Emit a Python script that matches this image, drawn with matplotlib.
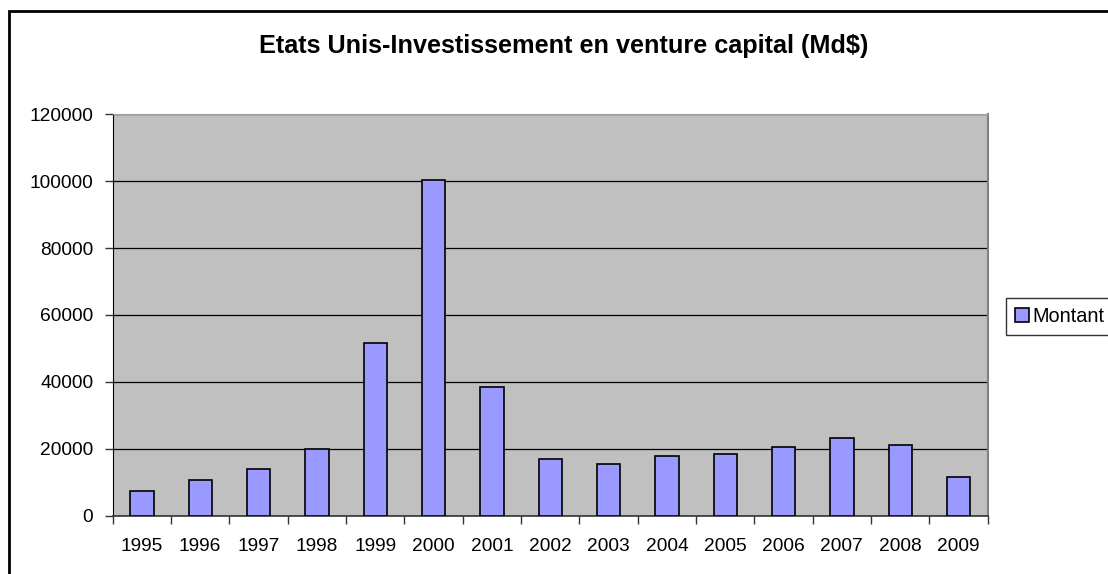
import numpy as np
import matplotlib
matplotlib.use("Agg")
import matplotlib.pyplot as plt
from matplotlib.patches import Rectangle

# Donnees
annees = ["1995", "1996", "1997", "1998", "1999", "2000", "2001", "2002",
          "2003", "2004", "2005", "2006", "2007", "2008", "2009"]
montant = [7300, 10800, 14100, 20000, 51500, 100300, 38600, 16800,
           15400, 17800, 18300, 20600, 23100, 21200, 11600]
yticks = [0, 20000, 40000, 60000, 80000, 100000, 120000]

plt.rcParams['font.family'] = ['Liberation Sans', 'DejaVu Sans']

fig = plt.figure(figsize=(11.08, 5.74), dpi=100)
ax = fig.add_axes([0.1017, 0.1016, 0.7897, 0.6993])

x = np.arange(len(annees))
ax.bar(x, montant, width=0.4, color="#9999FF", edgecolor="black",
       linewidth=1.2, label="Montant", zorder=3)

ax.set_facecolor("#C0C0C0")
ax.set_xlim(-0.5, len(annees) - 0.5)
ax.set_ylim(0, 120000)
ax.set_yticks(yticks)
ax.set_yticklabels([str(v) for v in yticks], fontsize=13.8)
ax.yaxis.grid(True, color="black", linewidth=0.9, zorder=1)
ax.set_axisbelow(True)

# etiquettes au centre, traits entre les categories
ax.set_xticks(x)
ax.set_xticklabels(annees, fontsize=13.8)
ax.set_xticks(np.arange(-0.5, len(annees), 1.0), minor=True)
ax.tick_params(axis="x", which="major", length=0, pad=16)
ax.tick_params(axis="x", which="minor", length=6, width=1, color="#333333")
ax.tick_params(axis="y", length=6, width=1, pad=8, color="#333333")

ax.spines["left"].set_color("black")
ax.spines["bottom"].set_color("#333333")
ax.spines["bottom"].set_linewidth(1.2)
ax.spines["top"].set_color("#A0A0A0")
ax.spines["right"].set_color("#808080")
ax.spines["right"].set_linewidth(1.5)

fig.text(564 / 1108, 1 - 46 / 574, "Etats Unis-Investissement en venture capital (Md$)",
         ha="center", va="center", fontsize=18.2, fontweight="bold")

leg = fig.legend(loc="upper left", bbox_to_anchor=(1006 / 1108, 1 - 298 / 574),
                 fontsize=14.3, frameon=True, fancybox=False, borderpad=0.45,
                 handlelength=0.7, handleheight=0.7, handletextpad=0.2,
                 borderaxespad=0)
leg.get_frame().set_edgecolor("black")
leg.get_frame().set_linewidth(1)

# cadre exterieur du graphique
fig.patches.append(Rectangle((9 / 1108, -0.1), 1.2, 1.1 - 11 / 574,
                             transform=fig.transFigure, fill=False,
                             edgecolor="black", linewidth=2))

fig.savefig("out.png", dpi=100)
